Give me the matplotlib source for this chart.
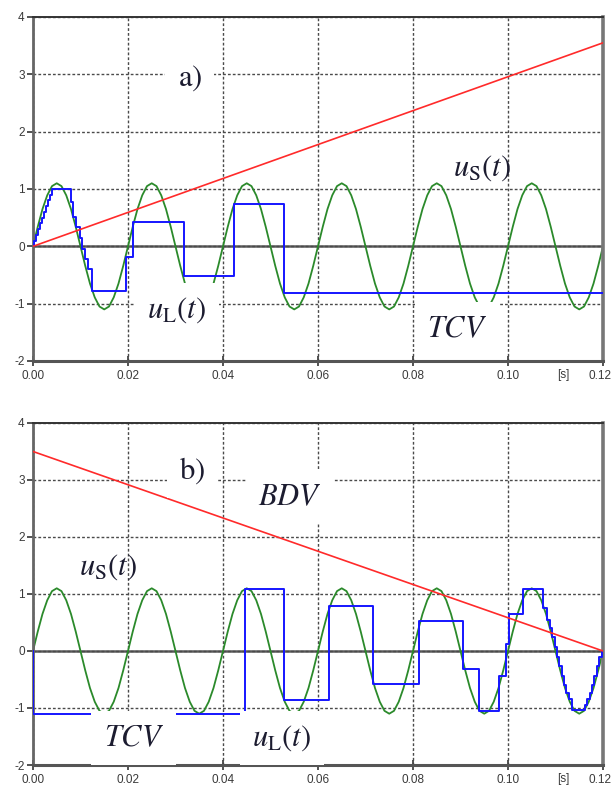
import matplotlib
matplotlib.use("Agg")
import matplotlib.pyplot as plt

plt.rcParams['mathtext.fontset'] = 'stix'
plt.rcParams['axes.unicode_minus'] = False

# sampled source voltage u_S(t), 1 ms steps, 0 .. 0.12 s
t_us = [i * 0.001 for i in range(121)]
us = [0, 0.34, 0.65, 0.89, 1.05, 1.1, 1.05, 0.89, 0.65, 0.34,
      0, -0.34, -0.65, -0.89, -1.05, -1.1, -1.05, -0.89, -0.65, -0.34,
      0, 0.34, 0.65, 0.89, 1.05, 1.1, 1.05, 0.89, 0.65, 0.34,
      0, -0.34, -0.65, -0.89, -1.05, -1.1, -1.05, -0.89, -0.65, -0.34,
      0, 0.34, 0.65, 0.89, 1.05, 1.1, 1.05, 0.89, 0.65, 0.34,
      0, -0.34, -0.65, -0.89, -1.05, -1.1, -1.05, -0.89, -0.65, -0.34,
      0, 0.34, 0.65, 0.89, 1.05, 1.1, 1.05, 0.89, 0.65, 0.34,
      0, -0.34, -0.65, -0.89, -1.05, -1.1, -1.05, -0.89, -0.65, -0.34,
      0, 0.34, 0.65, 0.89, 1.05, 1.1, 1.05, 0.89, 0.65, 0.34,
      0, -0.34, -0.65, -0.89, -1.05, -1.1, -1.05, -0.89, -0.65, -0.34,
      0, 0.34, 0.65, 0.89, 1.05, 1.1, 1.05, 0.89, 0.65, 0.34,
      0, -0.34, -0.65, -0.89, -1.05, -1.1, -1.05, -0.89, -0.65, -0.34,
      0]

# a) load voltage u_L(t), step values (held until next time)
ta = [0, 0.0003, 0.0007, 0.0011, 0.0015, 0.0019, 0.0023, 0.0027, 0.0031, 0.0035, 0.0039,
      0.0079, 0.0085, 0.0091, 0.0099, 0.0104, 0.0109, 0.0116, 0.0124,
      0.0196, 0.0211, 0.0317, 0.0424, 0.0528, 0.12]
va = [0, 0.1, 0.2, 0.3, 0.4, 0.5, 0.6, 0.7, 0.8, 0.9, 1.0,
      0.78, 0.52, 0.33, 0.15, -0.05, -0.22, -0.4, -0.78,
      -0.19, 0.42, -0.52, 0.73, -0.82, -0.82]
# a) TCV ramp
ra_t = [0, 0.12]
ra_v = [0, 3.55]

# b) load voltage u_L(t)
tb = [0, 0, 0.0447, 0.0528, 0.0624, 0.0715, 0.0813, 0.0905, 0.0938, 0.0982,
      0.0996, 0.1003, 0.1032, 0.1073, 0.1082, 0.1088, 0.1093, 0.1098, 0.1103,
      0.1108, 0.1113, 0.1118, 0.1123, 0.1128, 0.1134, 0.1162, 0.1167, 0.1172,
      0.1177, 0.1182, 0.1187, 0.1192, 0.1197, 0.12]
vb = [0, -1.1, 1.08, -0.86, 0.79, -0.58, 0.53, -0.31, -1.05, -0.43,
      0.12, 0.65, 1.09, 0.76, 0.55, 0.41, 0.24, 0.07, -0.1,
      -0.27, -0.44, -0.59, -0.73, -0.85, -1.03, -0.95, -0.85, -0.73,
      -0.59, -0.44, -0.27, -0.1, 0, 0]
# b) BDV ramp
rb_t = [0, 0.12]
rb_v = [3.5, 0]

xticks = [0, 0.02, 0.04, 0.06, 0.08, 0.10, 0.12]
xlabels = ['0.00', '0.02', '0.04', '0.06', '0.08', '0.10', '']
yticks = [-2, -1, 0, 1, 2, 3, 4]

TXT = '#1c1c30'
TICK = '#3a3a3a'
BOX = dict(facecolor='white', edgecolor='none', boxstyle='square,pad=0.4')


def setup_axes(ax):
    ax.set_xlim(0, 0.12)
    ax.set_ylim(-2, 4)
    ax.set_xticks(xticks)
    ax.set_xticklabels(xlabels)
    ax.set_yticks(yticks)
    ax.set_yticklabels([str(v) for v in yticks])
    ax.grid(True, linestyle=(0, (2, 1.5)), color='#4a4a4a', lw=1.0)
    ax.axhline(0, color='#5a5a5a', lw=1.8, zorder=1.5)
    ax.tick_params(axis='x', direction='inout', length=7, width=1.3,
                   color='#444444', labelsize=8.5, labelcolor=TICK, pad=3)
    ax.tick_params(axis='y', direction='out', length=4, width=1.3,
                   color='#444444', labelsize=8.5, labelcolor=TICK, pad=2)
    for lab in ax.get_xticklabels() + ax.get_yticklabels():
        lab.set_fontfamily('Liberation Sans')
    ax.spines['left'].set_color('#666666')
    ax.spines['left'].set_linewidth(2)
    ax.spines['bottom'].set_color('#555555')
    ax.spines['bottom'].set_linewidth(2.2)
    ax.spines['top'].set_color('#333333')
    ax.spines['top'].set_linewidth(1.4)
    ax.spines['right'].set_color('#777777')
    ax.spines['right'].set_linewidth(2.6)
    ax.text(0.1116, -2.14, '[s]', ha='center', va='top',
            fontsize=8.5, color=TICK, family='Liberation Sans')
    # last tick label, pushed right so it stays inside the figure
    ax.annotate('0.12', xy=(1, 0), xycoords='axes fraction', xytext=(6, -6.3),
                textcoords='offset points', ha='right', va='top',
                fontsize=8.5, color=TICK, family='Liberation Sans')


def label(ax, x, y, s, box=True, size=22):
    ax.text(x, y, s, ha='center', va='center', fontsize=size, color=TXT,
            bbox=BOX if box else None, zorder=5)


fig = plt.figure(figsize=(6.12, 7.87), dpi=100)

# panel a
ax1 = fig.add_axes([0.0539, 0.5413, 0.9314, 0.4371])
setup_axes(ax1)
ax1.plot(t_us, us, color='#2b8a2b', lw=1.3, zorder=2)
ax1.step(ta, va, where='post', color='#1515ff', lw=1.4, zorder=3)
ax1.plot(ra_t, ra_v, color='#ff2a2a', lw=1.2, zorder=3)
label(ax1, 0.033, 2.93, r'$\mathrm{a)}$')
label(ax1, 0.0945, 1.36, r'$u_\mathrm{S}(t)$', box=False)
label(ax1, 0.0303, -1.12, r'$u_\mathrm{L}(t)$')
label(ax1, 0.0893, -1.43, r'$TCV$')

# panel b
ax2 = fig.add_axes([0.0539, 0.02795, 0.9314, 0.4346])
setup_axes(ax2)
ax2.plot(t_us, us, color='#2b8a2b', lw=1.3, zorder=2)
ax2.step(tb, vb, where='post', color='#1515ff', lw=1.4, zorder=3)
ax2.plot(rb_t, rb_v, color='#ff2a2a', lw=1.2, zorder=3)
label(ax2, 0.0335, 3.16, r'$\mathrm{b)}$')
label(ax2, 0.0541, 2.71, r'$BDV$')
label(ax2, 0.0158, 1.47, r'$u_\mathrm{S}(t)$', box=False)
label(ax2, 0.0212, -1.53, r'$TCV$')
label(ax2, 0.0524, -1.53, r'$u_\mathrm{L}(t)$')

fig.savefig('out.png', dpi=100)
